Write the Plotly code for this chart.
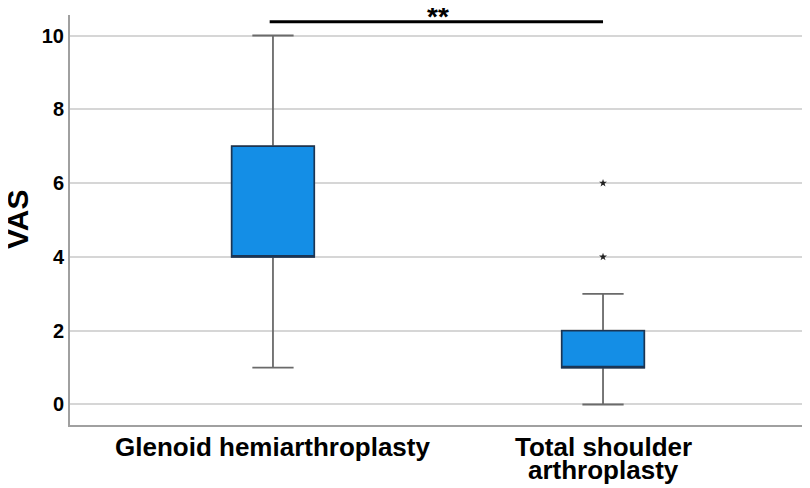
import plotly.graph_objects as go

# ---- data ----
categories = ["Glenoid hemiarthroplasty", "Total shoulder arthroplasty"]
tick_label_lines = [["Glenoid hemiarthroplasty"], ["Total shoulder", "arthroplasty"]]
q1 = [4, 1]
median = [4, 1]
q3 = [7, 2]
lowerfence = [1, 0]
upperfence = [10, 3]
outlier_x = ["Total shoulder arthroplasty", "Total shoulder arthroplasty"]
outlier_y = [4, 6]
y_ticks = [0, 2, 4, 6, 8, 10]
y_title = "VAS"
sig_label = "**"
sig_level = 10.37

FONT = "Liberation Sans, Arial, sans-serif"
BOX_FILL = "#148EE6"
BOX_LINE = "#1B3554"
WHISKER = "#6A6A6A"

fig = go.Figure()

# whiskers (gray)
fig.add_trace(go.Box(
    x=categories,
    q1=q1, median=median, q3=q3,
    lowerfence=lowerfence, upperfence=upperfence,
    width=0.25, whiskerwidth=0.5,
    line=dict(color=WHISKER, width=1.8),
    fillcolor=BOX_FILL, boxpoints=False, showlegend=False, hoverinfo="skip",
))
# box bodies (dark outline)
fig.add_trace(go.Box(
    x=categories,
    q1=q1, median=median, q3=q3,
    lowerfence=q1, upperfence=q3,
    width=0.25, whiskerwidth=0,
    line=dict(color=BOX_LINE, width=1.6),
    fillcolor=BOX_FILL, boxpoints=False, showlegend=False,
))
# outliers
fig.add_trace(go.Scatter(
    x=outlier_x, y=outlier_y, mode="markers",
    marker=dict(symbol="star", size=6, color="#222222"),
    showlegend=False,
))

# significance bar
fig.add_shape(type="line", xref="x", yref="y",
              x0=-0.01, x1=1, y0=sig_level, y1=sig_level,
              line=dict(color="black", width=3))
fig.add_annotation(x=0.5, y=sig_level, xref="x", yref="y", text=sig_label,
                   showarrow=False, yanchor="bottom", yshift=-12,
                   font=dict(family=FONT, size=28, color="black", weight="bold"))

# x tick labels as annotations (tight line spacing)
for cat, lines in zip(categories, tick_label_lines):
    for i, line in enumerate(lines):
        fig.add_annotation(x=cat, y=0, xref="x", yref="paper", text=line,
                           showarrow=False, yanchor="top", yshift=-5 - 23 * i,
                           font=dict(family=FONT, size=26, color="black", weight="bold"))

# y-axis title
fig.add_annotation(x=0, y=0.5, xref="paper", yref="paper", text=y_title,
                   showarrow=False, textangle=-90, xanchor="center", yanchor="middle",
                   xshift=-53,
                   font=dict(family=FONT, size=30, color="black", weight="bold"))

fig.update_layout(
    width=802, height=480,
    margin=dict(l=62, r=5, t=7, b=63),
    paper_bgcolor="white", plot_bgcolor="white",
    boxmode="overlay",
    font=dict(family=FONT, color="black"),
)
fig.update_xaxes(
    type="category", categoryorder="array", categoryarray=categories,
    range=[-0.615, 1.612], showticklabels=False, ticks="",
    showgrid=False, showline=True, linecolor="#A0A0A0", linewidth=2,
    zeroline=False, automargin=False,
)
fig.update_yaxes(
    range=[-0.556, 10.556], tickvals=y_ticks, ticks="",
    tickfont=dict(family=FONT, size=20, color="black", weight="bold"),
    showgrid=True, gridcolor="#D6D6D6", gridwidth=1.5,
    showline=True, linecolor="#A0A0A0", linewidth=2, zeroline=False,
    automargin=False,
)

fig.write_html("out.html")
